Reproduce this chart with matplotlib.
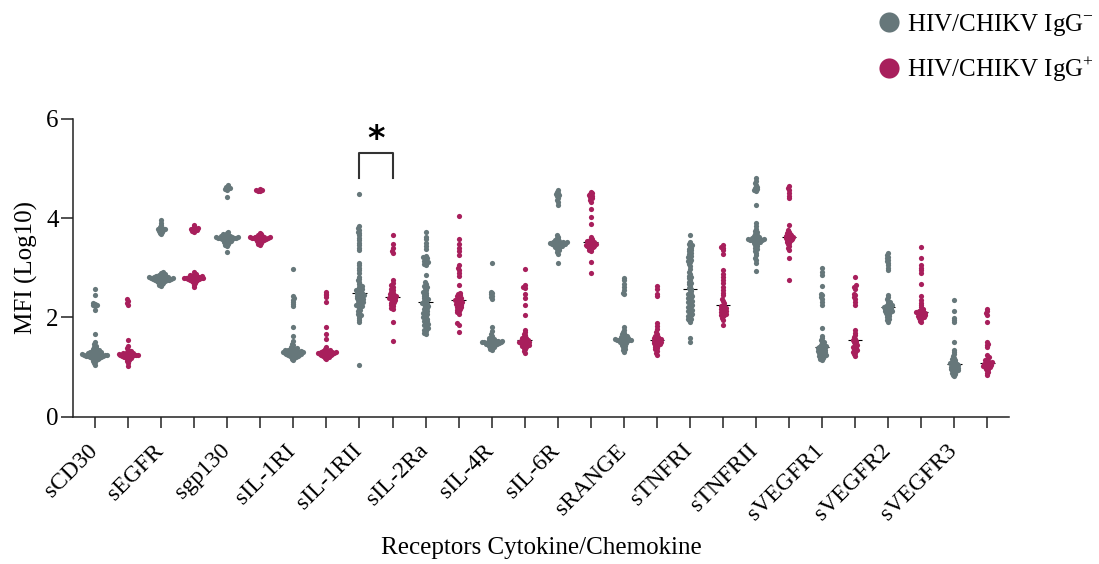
import matplotlib
matplotlib.use("Agg")
import matplotlib.pyplot as plt
import numpy as np
from matplotlib.lines import Line2D

plt.rcParams["font.family"] = ["Liberation Serif", "DejaVu Serif"]
plt.rcParams["mathtext.fontset"] = "custom"
plt.rcParams["mathtext.rm"] = "Liberation Serif"

RECEPTORS = ["sCD30", "sEGFR", "sgp130", "sIL-1RI", "sIL-1RII", "sIL-2Ra", "sIL-4R",
             "sIL-6R", "sRANGE", "sTNFRI", "sTNFRII", "sVEGFR1", "sVEGFR2", "sVEGFR3"]
GROUP_LABELS = ["HIV/CHIKV IgG$^{-}$", "HIV/CHIKV IgG$^{+}$"]

# log10 MFI values, IgG- (neg) and IgG+ (pos)
neg_sCD30 = [2.58, 2.44, 2.28, 2.27, 2.25, 2.24, 2.22, 2.15, 1.66, 1.50, 1.46, 1.43, 1.40, 1.38,
             1.36, 1.35, 1.34, 1.33, 1.32, 1.31, 1.30, 1.30, 1.29, 1.28, 1.28, 1.27, 1.27, 1.26,
             1.26, 1.25, 1.25, 1.25, 1.24, 1.24, 1.24, 1.23, 1.23, 1.23, 1.22, 1.22, 1.21, 1.21,
             1.20, 1.20, 1.19, 1.18, 1.17, 1.16, 1.15, 1.13, 1.11, 1.08, 1.05]
pos_sCD30 = [2.36, 2.32, 2.28, 2.24, 1.55, 1.42, 1.38, 1.35, 1.33, 1.31, 1.30, 1.29, 1.28, 1.27,
             1.27, 1.26, 1.26, 1.25, 1.25, 1.24, 1.24, 1.24, 1.23, 1.23, 1.22, 1.22, 1.21, 1.20,
             1.19, 1.18, 1.16, 1.14, 1.12, 1.08, 1.03]
neg_sEGFR = [3.95, 3.90, 3.85, 3.82, 3.80, 3.78, 3.77, 3.76, 3.75, 3.74, 3.72, 3.70, 3.67,
             2.92, 2.89, 2.87, 2.86, 2.85, 2.84, 2.83, 2.83, 2.82, 2.82, 2.81, 2.81, 2.80, 2.80,
             2.80, 2.79, 2.79, 2.79, 2.78, 2.78, 2.78, 2.77, 2.77, 2.76, 2.76, 2.75, 2.75, 2.74,
             2.74, 2.73, 2.72, 2.71, 2.70, 2.69, 2.67, 2.65, 2.63]
pos_sEGFR = [3.85, 3.81, 3.79, 3.78, 3.77, 3.76, 3.75, 3.73, 3.71,
             2.92, 2.88, 2.86, 2.85, 2.84, 2.83, 2.83, 2.82, 2.82, 2.81, 2.81, 2.80, 2.80, 2.79,
             2.79, 2.79, 2.78, 2.78, 2.77, 2.77, 2.76, 2.76, 2.75, 2.74, 2.73, 2.71, 2.69, 2.66, 2.62]
neg_sgp130 = [4.66, 4.63, 4.61, 4.60, 4.58, 4.56, 4.42, 3.72, 3.69, 3.67, 3.66, 3.65, 3.64, 3.63,
              3.63, 3.62, 3.62, 3.61, 3.61, 3.61, 3.60, 3.60, 3.60, 3.59, 3.59, 3.59, 3.58, 3.58,
              3.57, 3.57, 3.56, 3.55, 3.54, 3.53, 3.52, 3.51, 3.50, 3.48, 3.46, 3.44, 3.31]
pos_sgp130 = [4.59, 4.57, 4.56, 4.55, 4.54, 3.70, 3.67, 3.65, 3.64, 3.63, 3.62, 3.62, 3.61, 3.61,
              3.60, 3.60, 3.60, 3.59, 3.59, 3.58, 3.58, 3.57, 3.57, 3.56, 3.55, 3.54, 3.53, 3.52,
              3.50, 3.48, 3.46]
neg_sIL1RI = [2.97, 2.42, 2.38, 2.35, 2.31, 2.27, 2.23, 1.80, 1.63, 1.52, 1.47, 1.44, 1.41, 1.39,
              1.38, 1.37, 1.36, 1.35, 1.34, 1.34, 1.33, 1.33, 1.32, 1.32, 1.31, 1.31, 1.30, 1.30,
              1.30, 1.29, 1.29, 1.28, 1.28, 1.27, 1.27, 1.26, 1.26, 1.25, 1.25, 1.24, 1.24, 1.23,
              1.22, 1.21, 1.20, 1.19, 1.17, 1.15]
pos_sIL1RI = [2.52, 2.48, 2.44, 2.40, 2.30, 1.80, 1.67, 1.56, 1.40, 1.37, 1.35, 1.34, 1.33, 1.32,
              1.32, 1.31, 1.31, 1.30, 1.30, 1.29, 1.29, 1.28, 1.28, 1.27, 1.27, 1.26, 1.26, 1.25,
              1.25, 1.24, 1.23, 1.22, 1.21, 1.20, 1.18, 1.16]
neg_sIL1RII = [4.48, 3.83, 3.79, 3.76, 3.72, 3.70, 3.65, 3.59, 3.55, 3.50, 3.45, 3.39, 3.35, 3.10,
               3.05, 3.00, 2.95, 2.90, 2.82, 2.78, 2.75, 2.72, 2.68, 2.65, 2.63, 2.62, 2.60, 2.58,
               2.57, 2.56, 2.55, 2.53, 2.52, 2.50, 2.49, 2.48, 2.47, 2.45, 2.44, 2.43, 2.42, 2.41,
               2.40, 2.38, 2.37, 2.36, 2.35, 2.34, 2.32, 2.30, 2.29, 2.28, 2.26, 2.24, 2.23, 2.22,
               2.20, 2.17, 2.14, 2.12, 2.10, 2.06, 2.04, 2.02, 1.98, 1.94, 1.90, 1.04]
pos_sIL1RII = [3.66, 3.47, 3.40, 3.33, 3.29, 2.76, 2.70, 2.65, 2.62, 2.58, 2.55, 2.52, 2.50, 2.48,
               2.46, 2.44, 2.42, 2.41, 2.40, 2.39, 2.38, 2.37, 2.36, 2.34, 2.32, 2.30, 2.28, 2.26,
               2.24, 2.22, 2.19, 2.16, 1.91, 1.52]
neg_sIL2Ra = [3.71, 3.62, 3.57, 3.50, 3.44, 3.38, 3.24, 3.21, 3.20, 3.18, 3.15, 3.13, 3.11, 3.10,
              3.08, 3.05, 2.86, 2.72, 2.68, 2.64, 2.62, 2.60, 2.56, 2.52, 2.50, 2.48, 2.45, 2.42,
              2.40, 2.38, 2.36, 2.35, 2.33, 2.30, 2.28, 2.27, 2.26, 2.24, 2.22, 2.20, 2.18, 2.17,
              2.15, 2.12, 2.10, 2.08, 2.07, 2.05, 2.02, 2.00, 1.99, 1.97, 1.95, 1.93, 1.92, 1.90,
              1.87, 1.86, 1.84, 1.81, 1.78, 1.76, 1.75, 1.72, 1.69, 1.66]
pos_sIL2Ra = [4.04, 3.57, 3.47, 3.40, 3.33, 3.26, 3.05, 3.00, 2.96, 2.90, 2.84, 2.65, 2.50, 2.47,
              2.44, 2.42, 2.40, 2.38, 2.36, 2.35, 2.34, 2.32, 2.31, 2.30, 2.28, 2.27, 2.26, 2.24,
              2.22, 2.21, 2.20, 2.18, 2.16, 2.15, 2.13, 2.10, 2.07, 1.88, 1.85, 1.70]
neg_sIL4R = [3.09, 2.52, 2.49, 2.46, 2.43, 2.40, 2.36, 1.81, 1.72, 1.66, 1.62, 1.59, 1.57, 1.56,
             1.55, 1.54, 1.53, 1.53, 1.52, 1.52, 1.51, 1.51, 1.50, 1.50, 1.50, 1.49, 1.49, 1.48,
             1.48, 1.47, 1.47, 1.46, 1.46, 1.45, 1.44, 1.43, 1.42, 1.41, 1.40, 1.38, 1.36, 1.34]
pos_sIL4R = [2.97, 2.65, 2.62, 2.59, 2.48, 2.38, 2.25, 2.04, 1.75, 1.70, 1.67, 1.64, 1.61, 1.59,
             1.58, 1.56, 1.55, 1.54, 1.53, 1.52, 1.51, 1.50, 1.50, 1.49, 1.48, 1.47, 1.46, 1.45,
             1.44, 1.43, 1.42, 1.40, 1.38, 1.36, 1.33, 1.29]
neg_sIL6R = [4.56, 4.53, 4.50, 4.48, 4.46, 4.44, 4.40, 4.36, 4.32, 4.27, 3.66, 3.62, 3.59, 3.57,
             3.55, 3.54, 3.53, 3.52, 3.51, 3.51, 3.50, 3.50, 3.49, 3.49, 3.48, 3.48, 3.47, 3.47,
             3.46, 3.46, 3.45, 3.44, 3.43, 3.42, 3.41, 3.39, 3.37, 3.35, 3.32, 3.28, 3.09]
pos_sIL6R = [4.53, 4.50, 4.48, 4.46, 4.45, 4.43, 4.40, 4.37, 4.33, 4.18, 4.03, 3.88, 3.61, 3.57,
             3.55, 3.53, 3.52, 3.51, 3.50, 3.49, 3.48, 3.47, 3.46, 3.45, 3.45, 3.44, 3.43, 3.42,
             3.41, 3.40, 3.38, 3.36, 3.33, 3.12, 2.89]
neg_sRANGE = [2.80, 2.75, 2.68, 2.62, 2.56, 2.50, 2.46, 1.81, 1.75, 1.71, 1.68, 1.66, 1.64, 1.62,
              1.61, 1.60, 1.59, 1.58, 1.57, 1.57, 1.56, 1.56, 1.55, 1.55, 1.54, 1.54, 1.53, 1.53,
              1.52, 1.51, 1.50, 1.49, 1.48, 1.46, 1.44, 1.42, 1.40, 1.37, 1.34, 1.30]
pos_sRANGE = [2.63, 2.57, 2.48, 2.43, 1.88, 1.82, 1.76, 1.70, 1.66, 1.63, 1.61, 1.60, 1.58, 1.57,
              1.56, 1.55, 1.54, 1.53, 1.52, 1.51, 1.50, 1.49, 1.48, 1.47, 1.46, 1.45, 1.44, 1.42,
              1.40, 1.38, 1.36, 1.33, 1.29, 1.25]
neg_sTNFRI = [3.65, 3.52, 3.47, 3.45, 3.43, 3.40, 3.38, 3.36, 3.33, 3.30, 3.27, 3.24, 3.22, 3.20,
              3.16, 3.14, 3.12, 3.08, 3.04, 2.98, 2.92, 2.88, 2.84, 2.82, 2.80, 2.76, 2.72, 2.70,
              2.68, 2.64, 2.60, 2.58, 2.56, 2.53, 2.50, 2.48, 2.47, 2.45, 2.42, 2.40, 2.39, 2.36,
              2.33, 2.31, 2.30, 2.27, 2.24, 2.22, 2.21, 2.18, 2.15, 2.13, 2.12, 2.09, 2.06, 2.04,
              2.03, 2.00, 1.97, 1.96, 1.94, 1.90, 1.58, 1.50]
pos_sTNFRI = [3.45, 3.42, 3.40, 3.35, 3.28, 2.95, 2.88, 2.82, 2.76, 2.70, 2.62, 2.56, 2.50, 2.44,
              2.36, 2.32, 2.28, 2.25, 2.23, 2.22, 2.20, 2.18, 2.17, 2.16, 2.14, 2.12, 2.11, 2.10,
              2.08, 2.06, 2.05, 2.04, 2.02, 1.98, 1.94, 1.85]
neg_sTNFRII = [4.80, 4.75, 4.70, 4.66, 4.62, 4.60, 4.58, 4.56, 4.54, 4.26, 3.90, 3.84, 3.78, 3.74,
               3.71, 3.68, 3.66, 3.64, 3.63, 3.62, 3.61, 3.60, 3.59, 3.58, 3.58, 3.57, 3.57, 3.56,
               3.56, 3.55, 3.55, 3.54, 3.53, 3.52, 3.51, 3.50, 3.49, 3.47, 3.45, 3.43, 3.40, 3.37,
               3.34, 3.30, 3.25, 3.20, 3.16, 3.09, 2.93]
pos_sTNFRII = [4.65, 4.60, 4.56, 4.50, 4.45, 4.40, 3.86, 3.76, 3.72, 3.70, 3.68, 3.66, 3.65, 3.64,
               3.63, 3.62, 3.61, 3.60, 3.59, 3.58, 3.57, 3.56, 3.55, 3.53, 3.51, 3.49, 3.47, 3.44,
               3.40, 3.36, 3.19, 2.75]
neg_sVEGFR1 = [2.99, 2.92, 2.85, 2.63, 2.48, 2.44, 2.40, 2.36, 2.30, 2.24, 1.78, 1.62, 1.58, 1.55,
               1.52, 1.50, 1.48, 1.46, 1.44, 1.43, 1.42, 1.41, 1.40, 1.39, 1.38, 1.37, 1.36, 1.35,
               1.34, 1.33, 1.32, 1.31, 1.30, 1.29, 1.28, 1.27, 1.26, 1.25, 1.24, 1.23, 1.22, 1.21,
               1.19, 1.17, 1.15]
pos_sVEGFR1 = [2.82, 2.65, 2.62, 2.58, 2.48, 2.44, 2.40, 2.36, 2.30, 2.25, 1.75, 1.69, 1.64, 1.60,
               1.57, 1.54, 1.52, 1.50, 1.48, 1.46, 1.44, 1.42, 1.40, 1.38, 1.36, 1.34, 1.32, 1.30,
               1.28, 1.26, 1.23]
neg_sVEGFR2 = [3.29, 3.25, 3.22, 3.19, 3.16, 3.13, 3.10, 3.05, 3.00, 2.95, 2.45, 2.40, 2.36, 2.33,
               2.30, 2.28, 2.26, 2.24, 2.23, 2.22, 2.21, 2.20, 2.19, 2.18, 2.17, 2.16, 2.15, 2.14,
               2.13, 2.12, 2.11, 2.10, 2.08, 2.06, 2.04, 2.02, 2.00, 1.97, 1.94, 1.90]
pos_sVEGFR2 = [3.42, 3.19, 3.05, 3.00, 2.95, 2.89, 2.67, 2.43, 2.35, 2.28, 2.24, 2.20, 2.17, 2.15,
               2.13, 2.12, 2.11, 2.10, 2.09, 2.08, 2.07, 2.06, 2.05, 2.04, 2.03, 2.02, 2.01, 2.00,
               1.98, 1.96, 1.93, 1.90]
neg_sVEGFR3 = [2.35, 2.12, 1.98, 1.94, 1.90, 1.51, 1.34, 1.30, 1.26, 1.22, 1.19, 1.16, 1.14, 1.12,
               1.10, 1.09, 1.08, 1.07, 1.06, 1.05, 1.04, 1.03, 1.02, 1.01, 1.00, 0.99, 0.98, 0.97,
               0.96, 0.95, 0.94, 0.93, 0.92, 0.90, 0.88, 0.86, 0.84, 0.81]
pos_sVEGFR3 = [2.16, 2.12, 2.08, 2.05, 1.91, 1.51, 1.47, 1.44, 1.40, 1.24, 1.20, 1.17, 1.15, 1.13,
               1.11, 1.10, 1.09, 1.08, 1.07, 1.06, 1.05, 1.04, 1.03, 1.02, 1.01, 1.00, 0.99, 0.97,
               0.95, 0.93, 0.90, 0.87, 0.83]

GROUPS = [
    (neg_sCD30, pos_sCD30), (neg_sEGFR, pos_sEGFR), (neg_sgp130, pos_sgp130),
    (neg_sIL1RI, pos_sIL1RI), (neg_sIL1RII, pos_sIL1RII), (neg_sIL2Ra, pos_sIL2Ra),
    (neg_sIL4R, pos_sIL4R), (neg_sIL6R, pos_sIL6R), (neg_sRANGE, pos_sRANGE),
    (neg_sTNFRI, pos_sTNFRI), (neg_sTNFRII, pos_sTNFRII), (neg_sVEGFR1, pos_sVEGFR1),
    (neg_sVEGFR2, pos_sVEGFR2), (neg_sVEGFR3, pos_sVEGFR3),
]

COLORS = ["#66777a", "#a81f5c"]


def swarm_offsets(y_px, dmin):
    """Horizontal pixel offsets so that no two points sit closer than dmin."""
    out = np.zeros(len(y_px))
    px_list, py_list = [], []
    for i in np.argsort(y_px):
        y = y_px[i]
        near = [(px, py) for px, py in zip(px_list, py_list) if abs(py - y) < dmin]
        cands = [0.0]
        for px, py in near:
            dx = np.sqrt(dmin ** 2 - (py - y) ** 2)
            cands += [px + dx, px - dx]
        cands.sort(key=lambda c: (abs(c), c))
        chosen = cands[-1]
        for c in cands:
            if all((c - px) ** 2 + (y - py) ** 2 >= dmin ** 2 - 1e-6 for px, py in near):
                chosen = c
                break
        out[i] = chosen
        px_list.append(chosen)
        py_list.append(y)
    return out


fig = plt.figure(figsize=(10.99, 5.64), dpi=100)
ax = fig.add_axes([0.0667, 0.2612, 0.8515, 0.5284])
ax.set_xlim(-0.66, 27.66)
ax.set_ylim(0, 6)

# pixels per data unit, used for the swarm layout
p0 = ax.transData.transform((0, 0))
p1 = ax.transData.transform((1, 1))
x_ppu, y_ppu = p1 - p0

for k, pair in enumerate(GROUPS):
    for g, vals in enumerate(pair):
        xpos = 2 * k + g
        vals = np.asarray(vals)
        offs = swarm_offsets(vals * y_ppu, 2.1) / x_ppu
        med = np.median(vals)
        ax.hlines(med, xpos - 0.22, xpos + 0.22, color="black", lw=0.8, zorder=1)
        ax.scatter(xpos + offs, vals, s=14, color=COLORS[g], linewidths=0, zorder=2)

# significance bracket between the sIL-1RII groups
ax.plot([8, 8, 9, 9], [4.8, 5.3, 5.3, 4.8], color="#333333", lw=1.5, clip_on=False)
ax.text(8.5, 5.58, "*", ha="center", va="center", fontsize=24, fontweight="bold",
        family="DejaVu Sans")

for side in ["top", "right"]:
    ax.spines[side].set_visible(False)
for side in ["left", "bottom"]:
    ax.spines[side].set_linewidth(1.1)
    ax.spines[side].set_color("#222222")

ax.set_yticks([0, 2, 4, 6])
ax.tick_params(axis="y", length=8.5, width=1.1, labelsize=18, pad=2, color="#222222")
ax.set_xticks(np.arange(28))
ax.set_xticklabels([])
ax.tick_params(axis="x", which="major", length=8, width=1.1, color="#222222")
ax.set_xticks(np.arange(14) * 2 - 0.25, minor=True)
ax.set_xticklabels(RECEPTORS, minor=True, rotation=45, ha="right", rotation_mode="anchor",
                   fontsize=17)
ax.tick_params(axis="x", which="minor", length=0, pad=17)

ax.set_ylabel("MFI (Log10)", fontsize=18, labelpad=6)
ax.set_xlabel("Receptors Cytokine/Chemokine", fontsize=18, labelpad=9)

# legend drawn by hand in figure pixels
for row, (color, label) in enumerate(zip(COLORS, GROUP_LABELS)):
    yc = 1 - (22 + 46 * row) / 564
    fig.add_artist(Line2D([889 / 1099], [yc], marker="o", ls="none", markersize=14.5,
                          color=color, markeredgewidth=0))
    fig.text(907 / 1099, yc - 8.5 / 564, label, fontsize=18, ha="left", va="baseline")

fig.savefig("out.png", dpi=100)
